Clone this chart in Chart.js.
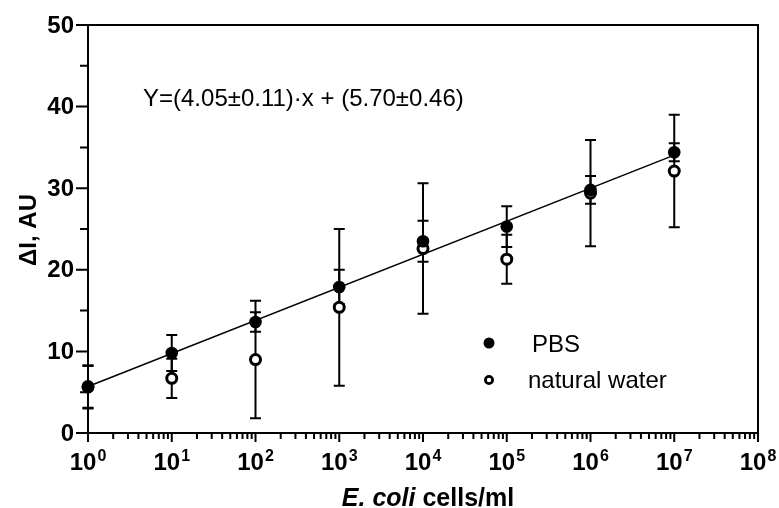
<!DOCTYPE html>
<html>
<head>
<meta charset="utf-8">
<script src="https://cdn.jsdelivr.net/npm/chart.js@4.4.1/dist/chart.umd.min.js"></script>
<style>
  body { margin: 0; background: #fff; }
  canvas { display: block; }
</style>
</head>
<body>
<canvas id="ecoli_chart" width="779" height="508"></canvas>
<script>
// concentration exponents (cells/ml = 10^e)
var exponents = [0, 1, 2, 3, 4, 5, 6, 7];
// PBS
var pbsMean = [5.6, 9.8, 13.6, 17.9, 23.5, 25.3, 29.8, 34.4];
var pbsErr = [2.6, 2.2, 1.2, 2.1, 2.5, 2.5, 1.7, 1.1];
// natural water
var nwMean = [5.7, 6.7, 9.0, 15.4, 22.6, 21.3, 29.4, 32.1];
var nwErr = [2.6, 2.4, 7.2, 9.6, 8.0, 3.0, 6.5, 6.9];
// fit from the picture: Y=(4.05±0.11)·x + (5.70±0.46)
var fitSlope = 4.05;
var fitIntercept = 5.70;
var fitRange = [0, 7];

var yTicks = [0, 10, 20, 30, 40, 50];
var yMinorTicks = [5, 15, 25, 35, 45];
var xTickExp = [0, 1, 2, 3, 4, 5, 6, 7, 8];

var FONT = '"Liberation Sans", Arial, Helvetica, sans-serif';

function toPoints(means){
  var pts = [];
  for (var i = 0; i < exponents.length; i++){
    pts.push({x: Math.pow(10, exponents[i]), y: means[i]});
  }
  return pts;
}

var fitPoints = [];
for (var j = 0; j < fitRange.length; j++){
  fitPoints.push({x: Math.pow(10, fitRange[j]), y: fitIntercept + fitSlope * fitRange[j]});
}

function drawErrors(ctx, xs, ys, means, errs){
  for (var i = 0; i < means.length; i++){
    var px = xs.getPixelForValue(Math.pow(10, exponents[i]));
    var top = ys.getPixelForValue(means[i] + errs[i]);
    var bot = ys.getPixelForValue(means[i] - errs[i]);
    ctx.beginPath();
    ctx.moveTo(px, top); ctx.lineTo(px, bot);
    ctx.moveTo(px - 5.5, top); ctx.lineTo(px + 5.5, top);
    ctx.moveTo(px - 5.5, bot); ctx.lineTo(px + 5.5, bot);
    ctx.stroke();
  }
}

var extras = {
  id: 'extras',
  beforeDatasetsDraw: function(chart){
    var ctx = chart.ctx, xs = chart.scales.x, ys = chart.scales.y;
    var a = chart.chartArea;
    ctx.save();
    ctx.strokeStyle = '#000';
    ctx.lineWidth = 2;
    // frame
    ctx.strokeRect(a.left, a.top, a.right - a.left, a.bottom - a.top);
    drawErrors(ctx, xs, ys, nwMean, nwErr);
    drawErrors(ctx, xs, ys, pbsMean, pbsErr);
    ctx.restore();
  },
  afterDraw: function(chart){
    var ctx = chart.ctx, xs = chart.scales.x, ys = chart.scales.y;
    var a = chart.chartArea;
    var i, k, px, py;
    ctx.save();
    ctx.strokeStyle = '#000';
    ctx.fillStyle = '#000';
    ctx.lineWidth = 2;

    // x ticks
    ctx.beginPath();
    for (i = 0; i < xTickExp.length; i++){
      px = xs.getPixelForValue(Math.pow(10, xTickExp[i]));
      ctx.moveTo(px, a.bottom); ctx.lineTo(px, a.bottom + 9);
      if (i < xTickExp.length - 1){
        for (k = 2; k <= 9; k++){
          var mx = xs.getPixelForValue(k * Math.pow(10, xTickExp[i]));
          ctx.moveTo(mx, a.bottom); ctx.lineTo(mx, a.bottom + 6);
        }
      }
    }
    // y ticks
    for (i = 0; i < yTicks.length; i++){
      py = ys.getPixelForValue(yTicks[i]);
      ctx.moveTo(a.left, py); ctx.lineTo(a.left - 12, py);
    }
    for (i = 0; i < yMinorTicks.length; i++){
      py = ys.getPixelForValue(yMinorTicks[i]);
      ctx.moveTo(a.left, py); ctx.lineTo(a.left - 8, py);
    }
    ctx.stroke();

    // y tick labels
    ctx.font = 'bold 24px ' + FONT;
    ctx.textAlign = 'right';
    ctx.textBaseline = 'middle';
    for (i = 0; i < yTicks.length; i++){
      py = ys.getPixelForValue(yTicks[i]);
      ctx.fillText(String(yTicks[i]), a.left - 14, py + 1);
    }

    // x tick labels 10^n
    ctx.textAlign = 'left';
    ctx.textBaseline = 'alphabetic';
    for (i = 0; i < xTickExp.length; i++){
      px = xs.getPixelForValue(Math.pow(10, xTickExp[i]));
      ctx.font = 'bold 24px ' + FONT;
      var w1 = ctx.measureText('10').width;
      ctx.font = 'bold 16px ' + FONT;
      var w2 = ctx.measureText(String(xTickExp[i])).width;
      var x0 = px - (w1 + 1 + w2) / 2;
      ctx.font = 'bold 24px ' + FONT;
      ctx.fillText('10', x0, 470);
      ctx.font = 'bold 16px ' + FONT;
      ctx.fillText(String(xTickExp[i]), x0 + w1 + 1, 461);
    }

    // x title
    ctx.font = 'italic bold 25px ' + FONT;
    var t1 = 'E. coli';
    var tw1 = ctx.measureText(t1).width;
    ctx.font = 'bold 25px ' + FONT;
    var t2 = ' cells/ml';
    var tw2 = ctx.measureText(t2).width;
    var tx = 428 - (tw1 + tw2) / 2;
    ctx.font = 'italic bold 25px ' + FONT;
    ctx.fillText(t1, tx, 506);
    ctx.font = 'bold 25px ' + FONT;
    ctx.fillText(t2, tx + tw1, 506);

    // y title
    ctx.save();
    ctx.translate(36, 230);
    ctx.rotate(-Math.PI / 2);
    ctx.textAlign = 'center';
    ctx.font = 'bold 24px ' + FONT;
    ctx.fillText('\u0394I, AU', 0, 0);
    ctx.restore();

    // equation
    ctx.font = '24px ' + FONT;
    ctx.textAlign = 'left';
    ctx.fillText('Y=(4.05\u00b10.11)\u00b7x + (5.70\u00b10.46)', 143, 106);

    // legend
    ctx.beginPath();
    ctx.arc(489, 343, 5.5, 0, Math.PI * 2);
    ctx.fill();
    ctx.beginPath();
    ctx.lineWidth = 2.8;
    ctx.arc(489, 380, 3.6, 0, Math.PI * 2);
    ctx.stroke();
    ctx.font = '24px ' + FONT;
    ctx.fillText('PBS', 532, 352);
    ctx.fillText('natural water', 528, 388);
    ctx.restore();
  }
};

var ctxEl = document.getElementById('ecoli_chart');
var chart = new Chart(ctxEl, {
  type: 'scatter',
  data: {
    datasets: [
      {
        label: 'PBS',
        data: toPoints(pbsMean),
        pointRadius: 6.3,
        pointHoverRadius: 6.3,
        backgroundColor: '#000',
        borderWidth: 0,
        clip: false
      },
      {
        label: 'natural water',
        data: toPoints(nwMean),
        pointRadius: 5,
        pointHoverRadius: 5,
        backgroundColor: '#fff',
        borderColor: '#000',
        borderWidth: 3,
        clip: false
      },
      {
        label: 'fit',
        data: fitPoints,
        showLine: true,
        pointRadius: 0,
        borderColor: '#000',
        borderWidth: 1.5,
        fill: false,
        clip: false
      }
    ]
  },
  options: {
    responsive: false,
    devicePixelRatio: 1,
    animation: false,
    layout: { padding: { left: 88, top: 25, right: 21, bottom: 75 } },
    plugins: { legend: { display: false }, tooltip: { enabled: false } },
    scales: {
      x: { type: 'logarithmic', min: 1, max: 1e8, display: false },
      y: { type: 'linear', min: 0, max: 50, display: false }
    }
  },
  plugins: [extras]
});
</script>
</body>
</html>
